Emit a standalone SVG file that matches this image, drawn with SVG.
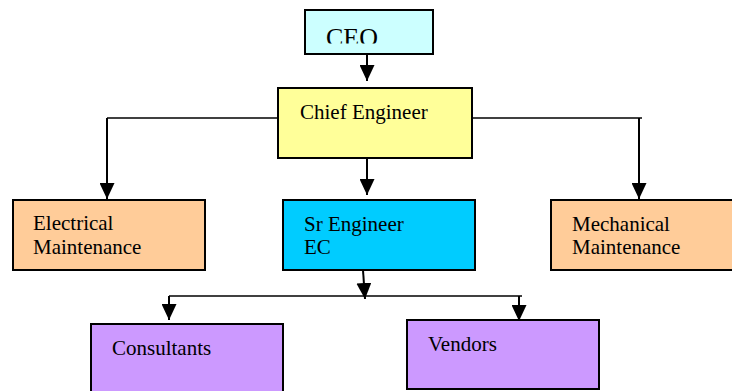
<svg xmlns="http://www.w3.org/2000/svg" width="732" height="391" viewBox="0 0 732 391">
<style>
.box{stroke:#000;stroke-width:2}
.t{font-family:"Liberation Serif","Times New Roman",serif;font-size:21px;fill:#000}
.c{fill:none;stroke:#000;stroke-width:2}
.h{fill:none;stroke:#000;stroke-width:1.5}
</style>
<defs>
<marker id="ah" viewBox="0 0 16 15" refX="16" refY="7.5" markerWidth="16" markerHeight="15" markerUnits="userSpaceOnUse" orient="auto">
<path d="M0,0 L16,7.5 L0,15 Z" fill="#000"/>
</marker>
<clipPath id="ceoclip"><rect x="305" y="10" width="128" height="33.5"/></clipPath>
</defs>
<rect width="732" height="391" fill="#fff"/>
<g id="connectors">
<line class="c" x1="367" y1="54" x2="367" y2="81" marker-end="url(#ah)"/>
<polyline class="h" points="278,118 107,118"/>
<line class="c" x1="107" y1="118" x2="107" y2="199" marker-end="url(#ah)"/>
<polyline class="h" points="472,118 642,118"/>
<line class="c" x1="639" y1="118" x2="639" y2="199" marker-end="url(#ah)"/>
<line class="c" x1="367" y1="158" x2="367" y2="195" marker-end="url(#ah)"/>
<line class="c" x1="363" y1="270" x2="365" y2="299" marker-end="url(#ah)"/>
<polyline class="h" points="169,296 522,296"/>
<line class="c" x1="169" y1="296" x2="169" y2="320" marker-end="url(#ah)"/>
<line class="c" x1="519" y1="296" x2="519" y2="321" marker-end="url(#ah)"/>
</g>
<g id="ceo">
<rect class="box" x="305" y="10" width="128" height="44" fill="#CCFFFF"/>
<text class="t" x="326" y="46" style="font-size:26px" clip-path="url(#ceoclip)">CEO</text>
</g>
<g id="chief">
<rect class="box" x="278" y="88" width="194" height="70" fill="#FFFF99"/>
<text class="t" x="300" y="119">Chief Engineer</text>
</g>
<g id="electrical">
<rect class="box" x="13" y="200" width="192" height="70" fill="#FFCC99"/>
<text class="t" x="33" y="230">Electrical</text>
<text class="t" x="33" y="254">Maintenance</text>
</g>
<g id="sr">
<rect class="box" x="283" y="200" width="192" height="70" fill="#00CCFF"/>
<text class="t" x="304" y="231">Sr Engineer</text>
<text class="t" x="304" y="254">EC</text>
</g>
<g id="mechanical">
<rect class="box" x="551" y="200" width="192" height="70" fill="#FFCC99"/>
<text class="t" x="572" y="231">Mechanical</text>
<text class="t" x="572" y="254">Maintenance</text>
</g>
<g id="consultants">
<rect class="box" x="91" y="324" width="192" height="80" fill="#CC99FF"/>
<text class="t" x="112" y="355">Consultants</text>
</g>
<g id="vendors">
<rect class="box" x="407" y="320" width="192" height="69" fill="#CC99FF"/>
<text class="t" x="428" y="351">Vendors</text>
</g>
</svg>
